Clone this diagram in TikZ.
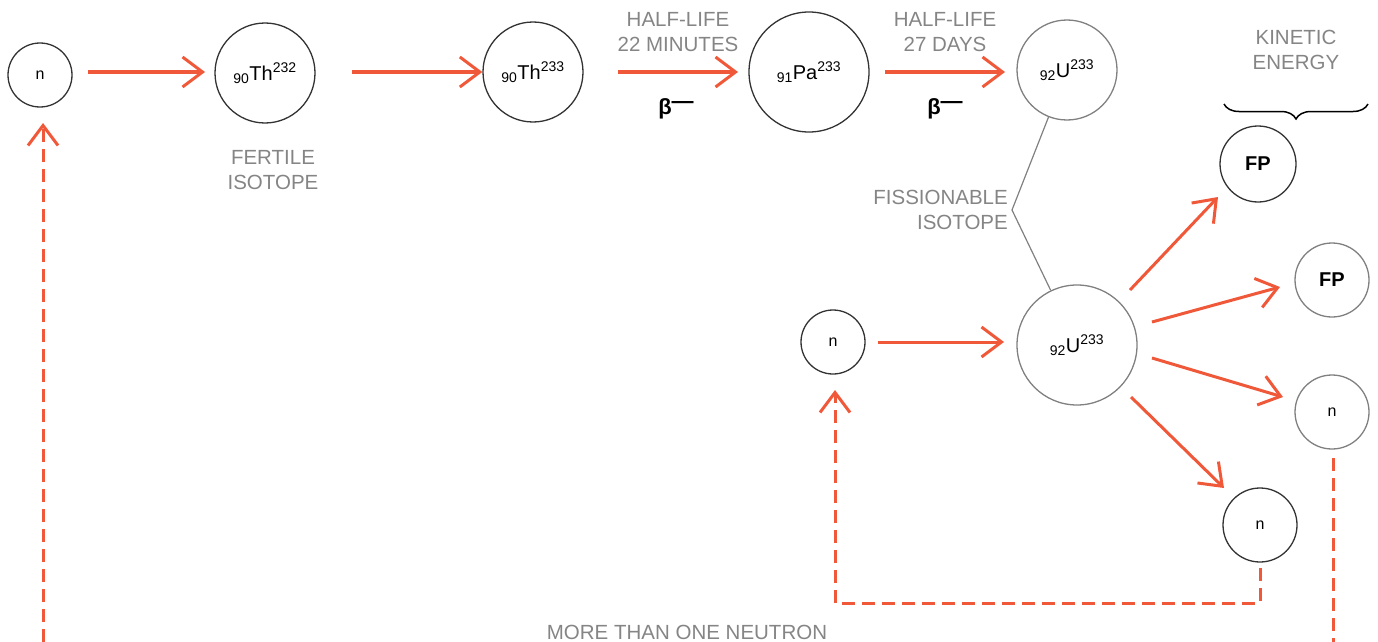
\documentclass[tikz,border=0pt]{standalone}
\usepackage{fontspec}
\setmainfont{Liberation Sans}
\usetikzlibrary{arrows.meta,decorations.pathreplacing}
\definecolor{arr}{HTML}{F0583A}
\definecolor{lab}{HTML}{858585}
\begin{document}
\begin{tikzpicture}[x=1pt,y=-1pt,
  atom/.style={circle,draw=black!80,line width=1.3pt,inner sep=0pt,minimum size=#1,font=\fontsize{20}{22}\selectfont},
  uatom/.style={circle,draw=black!50,line width=1.3pt,inner sep=0pt,minimum size=#1,font=\fontsize{20}{22}\selectfont},
  small/.style={font=\fontsize{16}{18}\selectfont},
  fpfont/.style={font=\fontsize{20}{22}\selectfont\bfseries},
  flow/.style={draw=arr,line width=3pt,-{Straight Barb[length=20pt,width=30pt,line width=3pt]}},
  dflow/.style={draw=arr,line width=3pt,dash pattern=on 13pt off 7pt},
  lbl/.style={text=lab,font=\fontsize{20.5}{25}\selectfont,align=center,inner sep=0pt},
  beta/.style={font=\fontsize{22}{24}\selectfont\bfseries,inner sep=0pt}
]
\useasboundingbox (0,0) rectangle (1378,642);
% nodes
\node[atom=64pt,small] (n1) at (40,75) {n};
\node[atom=100pt] (th232) at (265,73) {\textsubscript{90}Th\textsuperscript{232}};
\node[atom=100pt] (th233) at (533,72) {\textsubscript{90}Th\textsuperscript{233}};
\node[atom=120pt] (pa) at (809,72) {\textsubscript{91}Pa\textsuperscript{233}};
\node[uatom=100pt] (u1) at (1067,70) {\textsubscript{92}U\textsuperscript{233}};
\node[uatom=120pt] (u2) at (1077,345) {\textsubscript{92}U\textsuperscript{233}};
\node[atom=64pt,small] (n2) at (833,342) {n};
\node[atom=76pt,fpfont] (fp1) at (1258,164) {FP};
\node[uatom=74pt,fpfont] (fp2) at (1332,280) {FP};
\node[uatom=74pt,small] (n3) at (1332,412) {n};
\node[atom=74pt,small] (n4) at (1260,525) {n};
% labels
\node[lbl] (fert) at (273,170) {FERTILE\\ISOTOPE};
\node[lbl] (hl1) at (678,32) {HALF-LIFE\\22 MINUTES};
\node[lbl] (hl2) at (945,32) {HALF-LIFE\\27 DAYS};
\node[beta] (b1) at (676,109) {β\raisebox{0.55ex}{—}};
\node[beta] (b2) at (945,109) {β\raisebox{0.55ex}{—}};
\node[lbl,align=right,anchor=east] (fiss) at (1008,210) {FISSIONABLE\\ISOTOPE};
\node[lbl] (ke) at (1296,50) {KINETIC\\ENERGY};
\node[lbl] (more) at (687,632) {MORE THAN ONE NEUTRON};
% fissionable connector
\coordinate (fk) at (1012,210);
\draw[black!50,line width=1.2pt] (u1) -- (fk) -- (u2);
% brace
\coordinate (bl) at (1224,104);
\coordinate (br) at (1368,104);
\draw[line width=1.5pt,decorate,decoration={brace,amplitude=15pt}] (br) -- (bl);
% flows
\draw[flow] (n1) ++(48,-3) coordinate (a1) -- (205,72) coordinate (a2);
\draw[flow] (352,72) coordinate (a3) -- (th233);
\draw[flow] (618,72) -- (738,72);
\draw[flow] (885,72) -- (1005,72);
\draw[flow] (878,342) -- (1004,342);
\draw[flow] (1130,290) -- (1218,197);
\draw[flow] (1152,322) -- (1280,287);
\draw[flow] (1152,358) -- (1283,397);
\draw[flow] (1131,397) -- (1224,488);
% dashed returns
\coordinate (lb) at (43,642);
\coordinate (rb) at (1333,642);
\coordinate (c1) at (1260,603);
\coordinate (c2) at (835,603);
\draw[dflow,-{Straight Barb[length=20pt,width=30pt,line width=3pt]}] (lb) -- (43,123);
\draw[dflow,-{Straight Barb[length=20pt,width=30pt,line width=3pt]}] (1260,568) -- (c1) -- (c2) -- (835,390);
\draw[dflow] (1333,458) -- (rb);
\end{tikzpicture}
\end{document}
